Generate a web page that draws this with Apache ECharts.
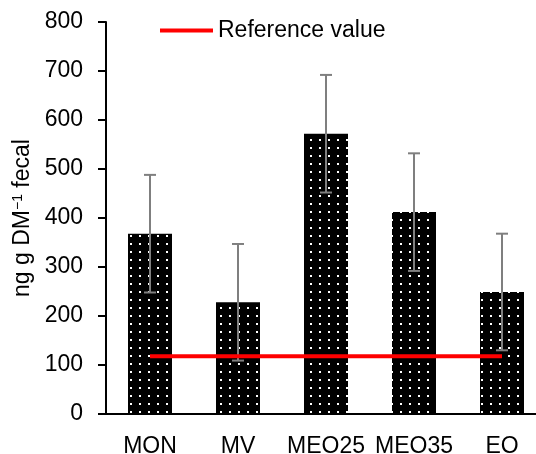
<!DOCTYPE html>
<html>
<head>
<meta charset="utf-8">
<script src="https://cdn.jsdelivr.net/npm/echarts@6/dist/echarts.min.js"></script>
<style>
  html, body { margin: 0; padding: 0; background: #fff; }
  #chart { width: 536px; height: 454px; }
</style>
</head>
<body>
<div id="chart"></div>
<script>
const categories = ['MON', 'MV', 'MEO25', 'MEO35', 'EO'];
const means = [368, 228, 572, 412, 249];
const errors = [120, 119, 120, 120, 119];
const referenceValue = [118, 118, 118, 118, 118];
const yTicks = [0, 100, 200, 300, 400, 500, 600, 700, 800];

// dotted fill like the Excel pattern
function dotPattern() {
  const c = document.createElement('canvas');
  c.width = 9;
  c.height = 8;
  const ctx = c.getContext('2d');
  ctx.fillStyle = '#000';
  ctx.fillRect(0, 0, 9, 8);
  ctx.fillStyle = '#fff';
  ctx.fillRect(4, 3, 2, 2);
  return c;
}

const chart = echarts.init(document.getElementById('chart'));
const font = 'Liberation Sans, Arial, Helvetica, sans-serif';

chart.setOption({
  animation: false,
  textStyle: { fontFamily: font },
  // the plot runs a little past the right edge, as in the original
  grid: { left: 106, top: 22, right: -10, bottom: 40, containLabel: false, outerBoundsMode: 'none' },
  legend: {
    left: 155,
    top: 14,
    itemWidth: 53,
    itemHeight: 4,
    itemGap: 5,
    data: [{ name: 'Reference value', icon: 'rect' }],
    textStyle: { fontSize: 23, color: '#000', fontFamily: font }
  },
  xAxis: {
    type: 'category',
    data: categories,
    axisLine: { lineStyle: { color: '#000', width: 2 } },
    axisTick: { show: false },
    axisLabel: { fontSize: 23, color: '#000', margin: 21, interval: 0 }
  },
  yAxis: {
    type: 'value',
    min: yTicks[0],
    max: yTicks[yTicks.length - 1],
    interval: 100,
    name: 'ng g DM{sup|−1} fecal',
    nameLocation: 'middle',
    nameGap: 70,
    nameTextStyle: {
      fontSize: 23,
      color: '#000',
      fontFamily: font,
      rich: {
        sup: { fontSize: 14, verticalAlign: 'top', color: '#000', fontFamily: font }
      }
    },
    axisLine: { show: true, lineStyle: { color: '#000', width: 2 } },
    axisTick: { show: true, length: 8, lineStyle: { color: '#000', width: 2 } },
    axisLabel: { fontSize: 23, color: '#000', margin: 23 },
    splitLine: { show: false }
  },
  series: [
    {
      name: 'Mean',
      type: 'bar',
      data: means,
      barWidth: 44,
      itemStyle: { color: { image: dotPattern(), repeat: 'repeat' } },
      z: 2
    },
    {
      name: 'Error',
      type: 'custom',
      data: categories.map((c, i) => [i, means[i] - errors[i], means[i] + errors[i]]),
      renderItem: function (params, api) {
        const lo = api.coord([api.value(0), api.value(1)]);
        const hi = api.coord([api.value(0), api.value(2)]);
        const half = 6;
        const style = { stroke: '#7f7f7f', lineWidth: 2 };
        return {
          type: 'group',
          children: [
            { type: 'line', shape: { x1: hi[0], y1: hi[1], x2: lo[0], y2: lo[1] }, style: style },
            { type: 'line', shape: { x1: hi[0] - half, y1: hi[1], x2: hi[0] + half, y2: hi[1] }, style: style },
            { type: 'line', shape: { x1: lo[0] - half, y1: lo[1], x2: lo[0] + half, y2: lo[1] }, style: style }
          ]
        };
      },
      z: 3
    },
    {
      name: 'Reference value',
      type: 'line',
      data: referenceValue,
      symbol: 'none',
      lineStyle: { color: '#ff0000', width: 4 },
      itemStyle: { color: '#ff0000' },
      z: 4
    }
  ]
});
</script>
</body>
</html>
